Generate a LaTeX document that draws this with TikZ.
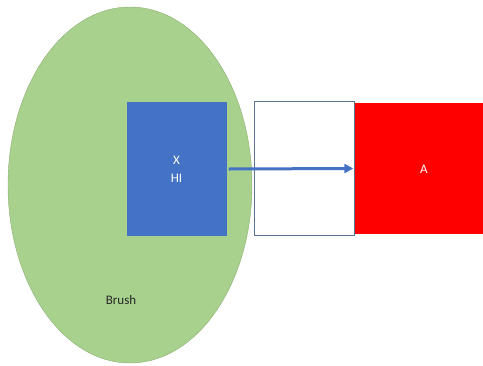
\documentclass[tikz,border=0pt]{standalone}
\usepackage{fontspec}
\setmainfont{Carlito}
\usetikzlibrary{shapes.geometric,arrows.meta}
\definecolor{brushgreen}{HTML}{A9D18E}
\definecolor{brushline}{HTML}{8CAE74}
\definecolor{xblue}{HTML}{4472C4}
\definecolor{boxline}{HTML}{5B7490}
\begin{document}
\begin{tikzpicture}[x={(1pt,0)},y={(0,-1pt)},font=\fontsize{13}{18}\selectfont]
              \useasboundingbox (0,0) rectangle (483,365);
              \node[ellipse, fill=brushgreen, draw=brushline, inner sep=0pt,
                    minimum width=244pt, minimum height=356pt] (brush) at (130,185) {};
              \node[text=black!85] (brushtext) at (121,300) {Brush};
              \begin{scope}[every node/.style={rectangle, inner sep=0pt, minimum height=134pt}]
                \node[fill=xblue, text=white, minimum width=100pt, align=center] (x) at (176.5,169) {X\\HI};
                \node[fill=white, draw=boxline, minimum width=100pt] (box) at (304,168) {};
                \node[fill=red, minimum width=128pt, minimum height=131pt] (a) at (419,168.5) {};
              \end{scope}
              \node[text=white] (atext) at (424,169) {A};
              \begin{scope}[every edge/.style={draw=xblue, line width=3pt, -{Triangle[length=9pt,width=9pt]}}]
                \path ([xshift=2pt]x.east) edge ([xshift=-1.5pt]a.west);
              \end{scope}
            \end{tikzpicture}
\end{document}
